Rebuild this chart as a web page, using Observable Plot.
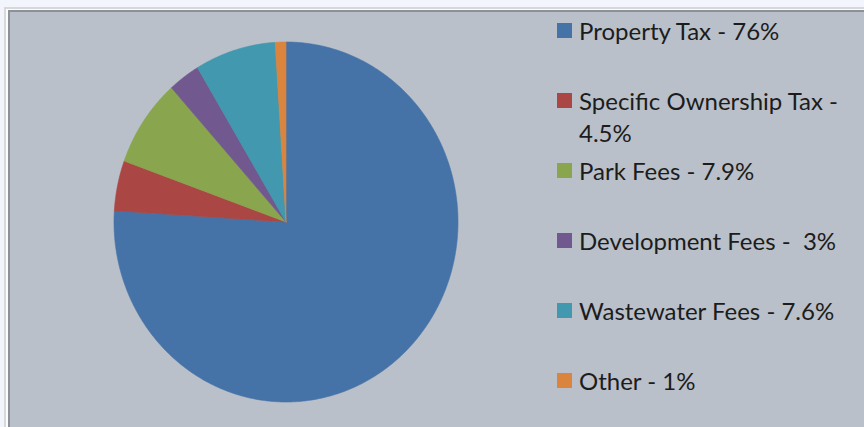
<!DOCTYPE html>
<html>
<head>
<meta charset="utf-8">
<script src="https://cdn.jsdelivr.net/npm/d3@7"></script>
<script src="https://cdn.jsdelivr.net/npm/@observablehq/plot@0.6"></script>
<style>
  html, body { margin: 0; padding: 0; width: 864px; height: 427px; overflow: hidden; background: #f2f6fc; }
  #frame1 { position: absolute; left: 4px; top: 7px; width: 900px; height: 460px; border-left: 2px solid #d6d8db; border-top: 2px solid #d6d8db; background: #fbfcfe; }
  #frame2 { position: absolute; left: 8px; top: 10px; width: 900px; height: 460px; border-left: 2px solid #8d9094; border-top: 2px solid #8d9094; background: #b9c0c9; }
  #chart { position: absolute; left: 0; top: 0; }
  #legend { position: absolute; left: 0; top: 0; font-family: Lato, "Open Sans", sans-serif; color: #1c1c1c; }
  .item { position: absolute; left: 557px; width: 300px; }
  .sw { position: absolute; left: 0; top: 8px; width: 15px; height: 15px; }
  .lab { position: absolute; left: 22px; width: 272px; font-size: 24px; line-height: 32px; white-space: pre-wrap; }
</style>
</head>
<body>
<div id="frame1"></div>
<div id="frame2"></div>
<div id="chart"></div>
<div id="legend"></div>
<script>
const categories = ["Property Tax", "Specific Ownership Tax", "Park Fees", "Development Fees", "Wastewater Fees", "Other"];
const shares = [76, 4.5, 7.9, 3, 7.6, 1];
const legendLabels = ["Property Tax - 76%", "Specific Ownership Tax - 4.5%", "Park Fees - 7.9%", "Development Fees -  3%", "Wastewater Fees - 7.6%", "Other - 1%"];
const colors = ["#4572a7", "#aa4643", "#89a54e", "#71588f", "#4198af", "#db843d"];

// slices from d3.pie, starting at 12 o'clock, clockwise, in data order
const arcs = d3.pie().sort(null).value(d => d.v)(categories.map((c, i) => ({c, v: shares[i]})));
const pts = [];
for (const a of arcs) {
  const name = a.data.c;
  pts.push({name, x: 0, y: 0});
  const n = Math.max(2, Math.ceil((a.endAngle - a.startAngle) / (Math.PI / 360)));
  for (let k = 0; k <= n; k++) {
    const t = a.startAngle + (a.endAngle - a.startAngle) * k / n;
    pts.push({name, x: Math.sin(t), y: Math.cos(t)});
  }
  pts.push({name, x: 0, y: 0});
}

const W = 864, H = 427;
const cx = 285.5, cy = 221.5, rx = 172, ry = 180;
const plot = Plot.plot({
  width: W, height: H,
  marginLeft: cx - rx, marginRight: W - (cx + rx),
  marginTop: cy - ry, marginBottom: H - (cy + ry),
  x: {domain: [-1, 1], axis: null},
  y: {domain: [-1, 1], axis: null},
  color: {type: "ordinal", domain: categories, range: colors},
  style: {background: "transparent", overflow: "visible"},
  marks: [
    Plot.line(pts, {x: "x", y: "y", z: "name", fill: "name", stroke: "name", strokeWidth: 0.6, curve: "linear"})
  ]
});
document.getElementById("chart").appendChild(plot);

const leg = document.getElementById("legend");
legendLabels.forEach((lab, i) => {
  const it = document.createElement("div");
  it.className = "item";
  it.style.top = (15 + i * 70) + "px";
  const sw = document.createElement("div");
  sw.className = "sw";
  sw.style.background = colors[i];
  const tx = document.createElement("div");
  tx.className = "lab";
  tx.textContent = lab;
  it.appendChild(sw); it.appendChild(tx);
  leg.appendChild(it);
});
</script>
</body>
</html>
